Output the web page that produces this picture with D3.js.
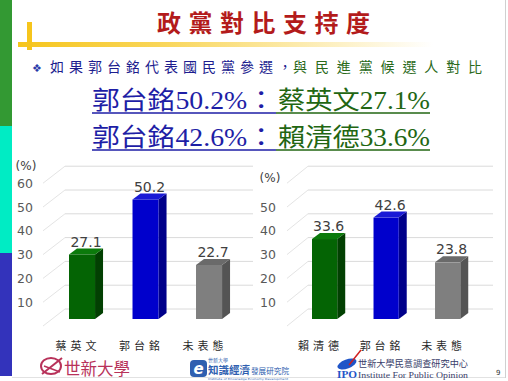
<!DOCTYPE html>
<html><head><meta charset="utf-8">
<script src="https://cdn.jsdelivr.net/npm/d3@7/dist/d3.min.js"></script>
<style>html,body{margin:0;padding:0;background:#fff;}svg{display:block;}</style>
</head><body>
<script>
// ---- data ----
const chart1Categories = ["蔡英文", "郭台銘", "未表態"];
const chart1Values = [27.1, 50.2, 22.7];
const chart2Categories = ["賴清德", "郭台銘", "未表態"];
const chart2Values = [33.6, 42.6, 23.8];
const chart1TickLabels = [10, 20, 30, 40, 50, 60];
const chart2TickLabels = [10, 20, 30, 40, 50];
const gridValues = [0, 10, 20, 30, 40, 50, 60];
const barColors = ["green", "blue", "gray"];
const titleText = "政黨對比支持度";
const subtitleBlue = "如果郭台銘代表國民黨參選，";
const subtitleGreen = "與民進黨候選人對比";
const line1Blue = "郭台銘50.2%：", line1Green = "蔡英文27.1%";
const line2Blue = "郭台銘42.6%：", line2Green = "賴清德33.6%";

const palette = {
  green: {front: "#046404", side: "#024002", top: "#0b7a0b"},
  blue: {front: "#0000cc", side: "#00008a", top: "#1a1ad6"},
  gray: {front: "#7f7f7f", side: "#545454", top: "#6a6a6a"}
};

const W = 508, H = 381;
const svg = d3.select("body").append("svg").attr("width", W).attr("height", H);
svg.append("rect").attr("width", W).attr("height", H).attr("fill", "#fff");

// side bar
svg.append("rect").attr("x", 0).attr("y", 0).attr("width", 12).attr("height", 126).attr("fill", "#339933");
svg.append("rect").attr("x", 0).attr("y", 126).attr("width", 12).attr("height", 127).attr("fill", "#00ecc4");
svg.append("rect").attr("x", 0).attr("y", 253).attr("width", 12).attr("height", 123).attr("fill", "#3333bb");
svg.append("line").attr("x1", 12).attr("x2", 506).attr("y1", 377.5).attr("y2", 377.5).attr("stroke", "#e2e2e2");
svg.append("line").attr("x1", 505.5).attr("x2", 505.5).attr("y1", 0).attr("y2", 378).attr("stroke", "#d0d0d0");

// yellow accent
const defs = svg.append("defs");
const g1 = defs.append("linearGradient").attr("id", "yl").attr("x1", "0").attr("x2", "1");
g1.append("stop").attr("offset", "0").attr("stop-color", "#f6c51c");
g1.append("stop").attr("offset", "0.35").attr("stop-color", "#f9d65a");
g1.append("stop").attr("offset", "1").attr("stop-color", "#ffffff");
svg.append("rect").attr("x", 18).attr("y", 42).attr("width", 415).attr("height", 5).attr("fill", "url(#yl)");
svg.append("rect").attr("x", 27).attr("y", 22).attr("width", 5).attr("height", 28).attr("fill", "#f6c51c");

// title
svg.append("text").attr("x", 157).attr("y", 32).attr("textLength", 213).attr("lengthAdjust", "spacing")
  .attr("font-family", "'Noto Sans CJK TC'").attr("font-weight", "bold").attr("font-size", 24)
  .attr("fill", "#b31b1b").text(titleText);

// subtitle
svg.append("text").attr("x", 32).attr("y", 72).attr("font-family", "'DejaVu Sans'").attr("font-size", 11)
  .attr("fill", "#2a3aaa").text("❖");
svg.append("text").attr("x", 50).attr("y", 72).attr("textLength", 242).attr("lengthAdjust", "spacing")
  .attr("font-family", "'Noto Sans CJK TC'").attr("font-size", 14).attr("fill", "#1d1d8f").text(subtitleBlue);
svg.append("text").attr("x", 293).attr("y", 72).attr("textLength", 189).attr("lengthAdjust", "spacing")
  .attr("font-family", "'Noto Sans CJK TC'").attr("font-size", 14).attr("fill", "#2a6a1a").text(subtitleGreen);

// big lines
const blueC = "#1e1ea6", greenC = "#226612";
function bigLine(bt, gt, base) {
  svg.append("text").attr("x", 92).attr("y", base).attr("textLength", 183).attr("lengthAdjust", "spacingAndGlyphs")
    .attr("font-family", "'Liberation Serif','Noto Sans CJK TC'").attr("font-size", 25).attr("fill", blueC).text(bt);
  svg.append("text").attr("x", 278).attr("y", base).attr("textLength", 152).attr("lengthAdjust", "spacingAndGlyphs")
    .attr("font-family", "'Liberation Serif','Noto Sans CJK TC'").attr("font-size", 25).attr("fill", greenC).text(gt);
  svg.append("line").attr("x1", 92).attr("x2", 276).attr("y1", base + 4).attr("y2", base + 4).attr("stroke", blueC).attr("stroke-width", 1.5);
  svg.append("line").attr("x1", 276).attr("x2", 430).attr("y1", base + 4).attr("y2", base + 4).attr("stroke", greenC).attr("stroke-width", 1.5);
}
bigLine(line1Blue, line1Green, 109);
bigLine(line2Blue, line2Green, 146);

// ---- charts ----
const barBase = 319, frontDy = 7, backDy = -10;
const yScale = d3.scaleLinear().domain([0, 60]).range([barBase, barBase - 142.8]);
const depthX = 8, depthY = 6;

function drawChart(cfg) {
  const g = svg.append("g");
  const x = d3.scaleBand().domain(cfg.categories).range(cfg.range).paddingInner(0.59).paddingOuter(0.5);
  // grid
  gridValues.forEach(v => {
    const yb = yScale(v) + backDy, yf = yScale(v) + frontDy;
    g.append("line").attr("x1", cfg.frontX).attr("y1", yf).attr("x2", cfg.backX).attr("y2", yb)
      .attr("stroke", "#e4e4e4").attr("stroke-width", 1);
    g.append("line").attr("x1", cfg.backX).attr("y1", yb).attr("x2", cfg.backEnd).attr("y2", yb)
      .attr("stroke", "#dadada").attr("stroke-width", 1);
  });
  // tick labels
  g.selectAll(".tk").data(cfg.ticks).enter().append("text")
    .attr("x", cfg.tickX).attr("y", d => yScale(d) + frontDy).attr("dy", "0.36em")
    .attr("text-anchor", "end").attr("font-family", "'DejaVu Sans'").attr("font-size", 12.5)
    .attr("fill", "#595959").text(d => d);
  g.append("text").attr("x", cfg.unitX).attr("y", cfg.unitY).attr("dy", "0.36em").attr("text-anchor", "middle")
    .attr("font-family", "'DejaVu Sans'").attr("font-size", 12).attr("fill", "#404040").text("(%)");
  // bars
  cfg.categories.forEach((c, i) => {
    const v = cfg.values[i], col = palette[barColors[i]];
    const x0 = x(c), w = x.bandwidth(), yt = yScale(v);
    g.append("path").attr("d", `M${x0 + w},${yt}L${x0 + w + depthX},${yt - depthY}L${x0 + w + depthX},${barBase - depthY}L${x0 + w},${barBase}Z`)
      .attr("fill", col.side);
    g.append("path").attr("d", `M${x0},${yt}L${x0 + depthX},${yt - depthY}L${x0 + w + depthX},${yt - depthY}L${x0 + w},${yt}Z`)
      .attr("fill", col.top);
    g.append("rect").attr("x", x0).attr("y", yt).attr("width", w).attr("height", barBase - yt).attr("fill", col.front);
    g.append("text").attr("x", x0 + (w + depthX) / 2).attr("y", yt - 8).attr("text-anchor", "middle")
      .attr("font-family", "'DejaVu Sans'").attr("font-size", 14).attr("fill", "#404040").text(v.toFixed(1));
    g.append("text").attr("x", x0 + w / 2 - 4).attr("y", 346).attr("dy", "0.36em").attr("text-anchor", "middle")
      .attr("font-family", "'Noto Sans CJK TC'").attr("font-size", 11).attr("letter-spacing", 4)
      .attr("fill", "#2a2a2a").text(c);
  });
}

drawChart({categories: chart1Categories, values: chart1Values, ticks: chart1TickLabels,
  range: [37.25, 253.8], frontX: 43, backX: 65, backEnd: 253, tickX: 33, unitX: 26, unitY: 166});
drawChart({categories: chart2Categories, values: chart2Values, ticks: chart2TickLabels,
  range: [281.25, 491], frontX: 287, backX: 308, backEnd: 493, tickX: 276, unitX: 270, unitY: 178});

// ---- logos ----
const crimson = "#b8325a";
svg.append("ellipse").attr("cx", 51).attr("cy", 366).attr("rx", 10).attr("ry", 8).attr("fill", "none").attr("stroke", crimson).attr("stroke-width", 2);
svg.append("line").attr("x1", 42).attr("y1", 374).attr("x2", 62).attr("y2", 358).attr("stroke", crimson).attr("stroke-width", 2);
svg.append("line").attr("x1", 44).attr("y1", 366).attr("x2", 60).attr("y2", 372).attr("stroke", crimson).attr("stroke-width", 1.5);
svg.append("text").attr("x", 64).attr("y", 375).attr("textLength", 66).attr("lengthAdjust", "spacingAndGlyphs")
  .attr("font-family", "'Noto Sans CJK TC'").attr("font-size", 17).attr("fill", crimson).text("世新大學");

const eBlue = "#2f5fb0";
svg.append("rect").attr("x", 190).attr("y", 360).attr("width", 17).attr("height", 17).attr("rx", 4).attr("fill", eBlue);
svg.append("text").attr("x", 198.5).attr("y", 374).attr("text-anchor", "middle").attr("font-family", "'DejaVu Sans'")
  .attr("font-style", "italic").attr("font-weight", "bold").attr("font-size", 15).attr("fill", "#fff").text("e");
svg.append("text").attr("x", 208).attr("y", 362).attr("font-family", "'Noto Sans CJK TC'").attr("font-size", 5).attr("fill", eBlue).text("世新大學");
svg.append("text").attr("x", 208).attr("y", 373.5).attr("textLength", 42).attr("lengthAdjust", "spacingAndGlyphs")
  .attr("font-family", "'Noto Sans CJK TC'").attr("font-weight", "bold").attr("font-size", 10.5).attr("fill", eBlue).text("知識經濟");
svg.append("text").attr("x", 251).attr("y", 373.5).attr("textLength", 38).attr("lengthAdjust", "spacingAndGlyphs")
  .attr("font-family", "'Noto Sans CJK TC'").attr("font-size", 7.5).attr("fill", eBlue).text("發展研究院");
svg.append("text").attr("x", 208).attr("y", 379.6).attr("textLength", 80).attr("lengthAdjust", "spacingAndGlyphs")
  .attr("font-family", "'DejaVu Sans'").attr("font-size", 2.8).attr("fill", eBlue).text("Institute of Knowledge Economy Development");

const ipoBlue = "#1f55c8";
svg.append("ellipse").attr("cx", 347).attr("cy", 364).attr("rx", 10).attr("ry", 4.5).attr("transform", "rotate(-20,347,364)").attr("fill", ipoBlue);
svg.append("line").attr("x1", 349).attr("y1", 365).attr("x2", 361).attr("y2", 350).attr("stroke", "#d02020").attr("stroke-width", 1.5);
svg.append("text").attr("x", 337).attr("y", 378).attr("textLength", 20).attr("lengthAdjust", "spacingAndGlyphs")
  .attr("font-family", "'Liberation Serif'").attr("font-weight", "bold").attr("font-size", 11).attr("fill", ipoBlue).text("IPO");
svg.append("text").attr("x", 358).attr("y", 367).attr("textLength", 110).attr("lengthAdjust", "spacingAndGlyphs")
  .attr("font-family", "'Noto Sans CJK TC'").attr("font-size", 9.5).attr("fill", "#39406a").text("世新大學民意調查研究中心");
svg.append("text").attr("x", 358).attr("y", 377.5).attr("textLength", 110).attr("lengthAdjust", "spacingAndGlyphs")
  .attr("font-family", "'Liberation Serif'").attr("font-size", 9).attr("fill", "#39406a").text("Institute For Public Opinion");
svg.append("text").attr("x", 496).attr("y", 375).attr("font-family", "'DejaVu Sans'").attr("font-size", 7).attr("fill", "#333").text("9");
</script>
</body></html>
